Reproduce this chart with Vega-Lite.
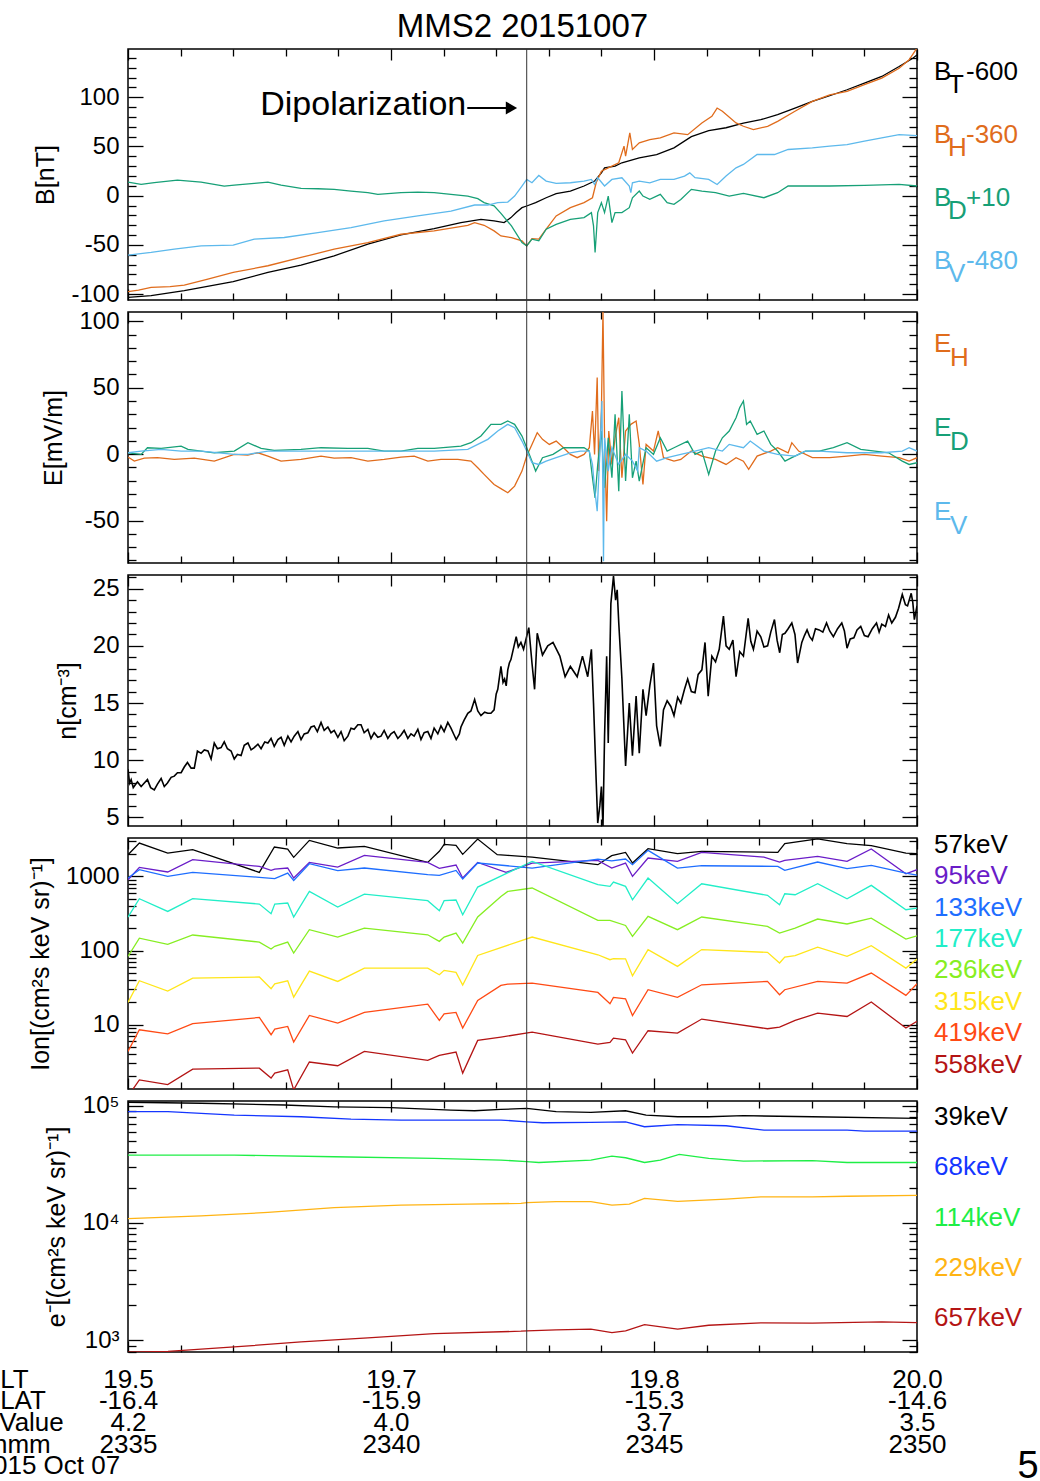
{
"$schema": "https://vega.github.io/schema/vega-lite/v6.json",
"padding": {"left": -23, "top": 10, "right": 0, "bottom": 0},
"config": {
 "font": "Liberation Sans",
 "view": {"stroke": "#000000", "strokeWidth": 1.5},
 "axis": {"domain": false, "grid": false, "labelFont": "Liberation Sans", "labelFontSize": 24, "labelColor": "#000000", "tickColor": "#000000", "tickWidth": 1.3, "titleFont": "Liberation Sans", "titleFontSize": 25, "titleFontWeight": "normal", "titleColor": "#000000", "titlePadding": 12, "labelFlush": false, "labelOverlap": false},
 "text": {"font": "Liberation Sans"},
 "title": {"font": "Liberation Sans", "fontWeight": "normal", "color": "#000000"}
},
"datasets": {
 "B": [
  {"t":35.0,"s":"BT","v":-103.3},{"t":35.44,"s":"BT","v":-101.6},{"t":36.07,"s":"BT","v":-96.5},{"t":37.0,"s":"BT","v":-87.4},{"t":37.66,"s":"BT","v":-78.0},{"t":38.29,"s":"BT","v":-70.5},{"t":38.92,"s":"BT","v":-61.1},{"t":39.56,"s":"BT","v":-49.3},{"t":40.19,"s":"BT","v":-39.9},{"t":40.82,"s":"BT","v":-33.4},{"t":41.33,"s":"BT","v":-27.4},{"t":41.71,"s":"BT","v":-24.0},{"t":41.96,"s":"BT","v":-25.7},{"t":42.15,"s":"BT","v":-27.4},{"t":42.28,"s":"BT","v":-22.3},{"t":42.38,"s":"BT","v":-17.2},{"t":42.49,"s":"BT","v":-12.2},{"t":42.58,"s":"BT","v":-10.5},{"t":42.75,"s":"BT","v":-7.1},{"t":42.95,"s":"BT","v":-2.1},{"t":43.14,"s":"BT","v":2.0},{"t":43.41,"s":"BT","v":4.7},{"t":43.67,"s":"BT","v":9.8},{"t":43.87,"s":"BT","v":14.8},{"t":44.0,"s":"BT","v":23.2},{"t":44.06,"s":"BT","v":28.3},{"t":44.26,"s":"BT","v":30.0},{"t":44.39,"s":"BT","v":33.4},{"t":44.72,"s":"BT","v":38.4},{"t":45.05,"s":"BT","v":41.8},{"t":45.38,"s":"BT","v":48.6},{"t":45.71,"s":"BT","v":60.0},{"t":46.04,"s":"BT","v":66.0},{"t":46.37,"s":"BT","v":69.0},{"t":46.7,"s":"BT","v":73.8},{"t":47.03,"s":"BT","v":77.2},{"t":47.35,"s":"BT","v":82.3},{"t":47.68,"s":"BT","v":89.0},{"t":48.01,"s":"BT","v":95.8},{"t":48.34,"s":"BT","v":101.5},{"t":48.67,"s":"BT","v":107.6},{"t":49.0,"s":"BT","v":114.3},{"t":49.33,"s":"BT","v":121.1},{"t":49.66,"s":"BT","v":131.2},{"t":49.92,"s":"BT","v":139.6},{"t":50.0,"s":"BT","v":143.0},
  {"t":35.0,"s":"BH","v":-97.6},{"t":35.2,"s":"BH","v":-96.0},{"t":35.44,"s":"BH","v":-93.2},{"t":35.8,"s":"BH","v":-92.5},{"t":36.07,"s":"BH","v":-90.8},{"t":36.5,"s":"BH","v":-85.0},{"t":37.0,"s":"BH","v":-78.0},{"t":37.66,"s":"BH","v":-71.2},{"t":38.29,"s":"BH","v":-62.8},{"t":38.92,"s":"BH","v":-54.4},{"t":39.56,"s":"BH","v":-47.6},{"t":40.19,"s":"BH","v":-39.2},{"t":40.82,"s":"BH","v":-35.8},{"t":41.46,"s":"BH","v":-30.1},{"t":41.59,"s":"BH","v":-27.4},{"t":41.77,"s":"BH","v":-30.1},{"t":41.96,"s":"BH","v":-35.8},{"t":42.09,"s":"BH","v":-40.9},{"t":42.29,"s":"BH","v":-42.6},{"t":42.49,"s":"BH","v":-45.9},{"t":42.58,"s":"BH","v":-51.0},{"t":42.68,"s":"BH","v":-43.6},{"t":42.81,"s":"BH","v":-44.2},{"t":42.95,"s":"BH","v":-34.1},{"t":43.14,"s":"BH","v":-20.6},{"t":43.41,"s":"BH","v":-12.2},{"t":43.67,"s":"BH","v":-7.1},{"t":43.83,"s":"BH","v":-2.1},{"t":43.9,"s":"BH","v":13.1},{"t":44.0,"s":"BH","v":24.9},{"t":44.13,"s":"BH","v":28.3},{"t":44.33,"s":"BH","v":33.4},{"t":44.43,"s":"BH","v":50.3},{"t":44.46,"s":"BH","v":40.1},{"t":44.54,"s":"BH","v":63.7},{"t":44.59,"s":"BH","v":46.9},{"t":44.72,"s":"BH","v":53.6},{"t":44.92,"s":"BH","v":57.0},{"t":45.12,"s":"BH","v":58.7},{"t":45.38,"s":"BH","v":63.7},{"t":45.64,"s":"BH","v":62.0},{"t":45.91,"s":"BH","v":73.9},{"t":46.1,"s":"BH","v":80.6},{"t":46.2,"s":"BH","v":89.0},{"t":46.3,"s":"BH","v":85.7},{"t":46.56,"s":"BH","v":73.9},{"t":46.7,"s":"BH","v":70.5},{"t":46.89,"s":"BH","v":67.1},{"t":47.16,"s":"BH","v":70.5},{"t":47.35,"s":"BH","v":75.5},{"t":47.68,"s":"BH","v":85.7},{"t":48.01,"s":"BH","v":95.8},{"t":48.34,"s":"BH","v":102.5},{"t":48.67,"s":"BH","v":105.9},{"t":49.0,"s":"BH","v":112.7},{"t":49.33,"s":"BH","v":119.4},{"t":49.66,"s":"BH","v":129.5},{"t":49.85,"s":"BH","v":138.0},{"t":50.0,"s":"BH","v":150.0},
  {"t":35.0,"s":"BD","v":13.8},{"t":35.25,"s":"BD","v":11.4},{"t":35.5,"s":"BD","v":13.2},{"t":35.94,"s":"BD","v":15.8},{"t":36.39,"s":"BD","v":13.8},{"t":36.83,"s":"BD","v":9.7},{"t":37.02,"s":"BD","v":10.7},{"t":37.4,"s":"BD","v":12.4},{"t":37.66,"s":"BD","v":13.8},{"t":37.91,"s":"BD","v":10.7},{"t":38.29,"s":"BD","v":7.4},{"t":38.61,"s":"BD","v":7.0},{"t":38.92,"s":"BD","v":6.4},{"t":39.24,"s":"BD","v":4.6},{"t":39.56,"s":"BD","v":3.0},{"t":39.75,"s":"BD","v":1.3},{"t":40.19,"s":"BD","v":3.0},{"t":40.51,"s":"BD","v":3.6},{"t":40.82,"s":"BD","v":3.0},{"t":41.14,"s":"BD","v":1.3},{"t":41.46,"s":"BD","v":-0.4},{"t":41.65,"s":"BD","v":-3.0},{"t":41.77,"s":"BD","v":-7.0},{"t":41.96,"s":"BD","v":-10.4},{"t":42.09,"s":"BD","v":-18.0},{"t":42.29,"s":"BD","v":-30.7},{"t":42.49,"s":"BD","v":-47.6},{"t":42.58,"s":"BD","v":-51.0},{"t":42.68,"s":"BD","v":-44.2},{"t":42.81,"s":"BD","v":-45.9},{"t":42.95,"s":"BD","v":-34.1},{"t":43.14,"s":"BD","v":-29.1},{"t":43.41,"s":"BD","v":-24.0},{"t":43.67,"s":"BD","v":-22.3},{"t":43.81,"s":"BD","v":-17.2},{"t":43.85,"s":"BD","v":-30.7},{"t":43.88,"s":"BD","v":-57.7},{"t":43.93,"s":"BD","v":-17.2},{"t":44.0,"s":"BD","v":-7.1},{"t":44.06,"s":"BD","v":-17.2},{"t":44.13,"s":"BD","v":-0.4},{"t":44.2,"s":"BD","v":-27.4},{"t":44.26,"s":"BD","v":-17.2},{"t":44.39,"s":"BD","v":-17.2},{"t":44.53,"s":"BD","v":-12.2},{"t":44.59,"s":"BD","v":-2.1},{"t":44.72,"s":"BD","v":4.7},{"t":44.79,"s":"BD","v":-0.4},{"t":44.92,"s":"BD","v":-3.8},{"t":45.12,"s":"BD","v":1.3},{"t":45.25,"s":"BD","v":-7.1},{"t":45.38,"s":"BD","v":-8.8},{"t":45.51,"s":"BD","v":-3.8},{"t":45.71,"s":"BD","v":6.4},{"t":45.91,"s":"BD","v":4.7},{"t":46.17,"s":"BD","v":3.0},{"t":46.43,"s":"BD","v":-0.4},{"t":46.7,"s":"BD","v":2.3},{"t":47.09,"s":"BD","v":-2.1},{"t":47.35,"s":"BD","v":3.0},{"t":47.55,"s":"BD","v":9.8},{"t":47.88,"s":"BD","v":9.8},{"t":48.34,"s":"BD","v":9.8},{"t":49.0,"s":"BD","v":10.4},{"t":49.66,"s":"BD","v":11.4},{"t":50.0,"s":"BD","v":9.8},
  {"t":35.0,"s":"BV","v":-60.4},{"t":35.44,"s":"BV","v":-57.7},{"t":35.88,"s":"BV","v":-54.4},{"t":36.39,"s":"BV","v":-51.0},{"t":37.0,"s":"BV","v":-50.3},{"t":37.4,"s":"BV","v":-44.2},{"t":37.97,"s":"BV","v":-42.5},{"t":38.61,"s":"BV","v":-37.5},{"t":39.24,"s":"BV","v":-32.4},{"t":39.87,"s":"BV","v":-25.7},{"t":40.51,"s":"BV","v":-20.6},{"t":41.14,"s":"BV","v":-15.6},{"t":41.59,"s":"BV","v":-9.5},{"t":41.84,"s":"BV","v":-9.5},{"t":42.03,"s":"BV","v":-7.1},{"t":42.22,"s":"BV","v":-6.5},{"t":42.35,"s":"BV","v":-0.4},{"t":42.49,"s":"BV","v":9.8},{"t":42.58,"s":"BV","v":16.5},{"t":42.68,"s":"BV","v":13.1},{"t":42.81,"s":"BV","v":20.5},{"t":42.95,"s":"BV","v":14.8},{"t":43.14,"s":"BV","v":12.4},{"t":43.41,"s":"BV","v":13.1},{"t":43.67,"s":"BV","v":14.8},{"t":43.81,"s":"BV","v":16.5},{"t":43.87,"s":"BV","v":11.4},{"t":43.93,"s":"BV","v":18.2},{"t":44.06,"s":"BV","v":9.8},{"t":44.2,"s":"BV","v":16.5},{"t":44.39,"s":"BV","v":18.2},{"t":44.53,"s":"BV","v":9.8},{"t":44.56,"s":"BV","v":3.0},{"t":44.59,"s":"BV","v":13.1},{"t":44.72,"s":"BV","v":14.8},{"t":44.92,"s":"BV","v":13.1},{"t":45.12,"s":"BV","v":16.5},{"t":45.38,"s":"BV","v":16.5},{"t":45.58,"s":"BV","v":19.9},{"t":45.68,"s":"BV","v":23.2},{"t":45.78,"s":"BV","v":18.2},{"t":46.04,"s":"BV","v":16.5},{"t":46.2,"s":"BV","v":11.4},{"t":46.37,"s":"BV","v":19.9},{"t":46.56,"s":"BV","v":28.3},{"t":46.7,"s":"BV","v":31.7},{"t":46.96,"s":"BV","v":41.8},{"t":47.29,"s":"BV","v":41.8},{"t":47.55,"s":"BV","v":46.9},{"t":48.01,"s":"BV","v":48.6},{"t":48.34,"s":"BV","v":50.3},{"t":48.67,"s":"BV","v":51.9},{"t":49.0,"s":"BV","v":55.3},{"t":49.33,"s":"BV","v":58.7},{"t":49.66,"s":"BV","v":62.0},{"t":50.0,"s":"BV","v":61.0}
 ],
 "E": [
  {"t":35.0,"s":"EH","v":-2.2},{"t":35.12,"s":"EH","v":-5.3},{"t":35.31,"s":"EH","v":-3.0},{"t":35.56,"s":"EH","v":-2.7},{"t":35.88,"s":"EH","v":-4.0},{"t":36.26,"s":"EH","v":-3.0},{"t":36.64,"s":"EH","v":-5.3},{"t":37.02,"s":"EH","v":-0.2},{"t":37.28,"s":"EH","v":-0.7},{"t":37.47,"s":"EH","v":1.0},{"t":37.66,"s":"EH","v":-1.5},{"t":37.91,"s":"EH","v":-5.3},{"t":38.29,"s":"EH","v":-4.0},{"t":38.67,"s":"EH","v":-1.5},{"t":38.92,"s":"EH","v":-3.0},{"t":39.24,"s":"EH","v":-2.7},{"t":39.56,"s":"EH","v":-5.3},{"t":39.87,"s":"EH","v":-4.0},{"t":40.19,"s":"EH","v":-2.2},{"t":40.44,"s":"EH","v":-1.5},{"t":40.7,"s":"EH","v":-5.3},{"t":40.95,"s":"EH","v":-4.0},{"t":41.27,"s":"EH","v":-4.0},{"t":41.52,"s":"EH","v":-5.3},{"t":41.65,"s":"EH","v":-10.3},{"t":41.77,"s":"EH","v":-15.3},{"t":41.96,"s":"EH","v":-22.9},{"t":42.09,"s":"EH","v":-26.0},{"t":42.22,"s":"EH","v":-29.1},{"t":42.35,"s":"EH","v":-24.1},{"t":42.49,"s":"EH","v":-12.8},{"t":42.58,"s":"EH","v":-1.5},{"t":42.68,"s":"EH","v":7.3},{"t":42.78,"s":"EH","v":16.1},{"t":42.88,"s":"EH","v":11.1},{"t":43.01,"s":"EH","v":7.3},{"t":43.14,"s":"EH","v":9.8},{"t":43.28,"s":"EH","v":4.8},{"t":43.41,"s":"EH","v":-0.2},{"t":43.54,"s":"EH","v":-2.7},{"t":43.67,"s":"EH","v":-0.2},{"t":43.77,"s":"EH","v":4.8},{"t":43.83,"s":"EH","v":32.4},{"t":43.87,"s":"EH","v":-0.2},{"t":43.92,"s":"EH","v":57.6},{"t":43.95,"s":"EH","v":-12.8},{"t":44.0,"s":"EH","v":32.4},{"t":44.03,"s":"EH","v":107.9},{"t":44.06,"s":"EH","v":12.3},{"t":44.1,"s":"EH","v":-50.5},{"t":44.14,"s":"EH","v":17.4},{"t":44.2,"s":"EH","v":-7.8},{"t":44.26,"s":"EH","v":12.3},{"t":44.33,"s":"EH","v":27.4},{"t":44.39,"s":"EH","v":-17.8},{"t":44.46,"s":"EH","v":17.4},{"t":44.56,"s":"EH","v":22.4},{"t":44.66,"s":"EH","v":24.9},{"t":44.72,"s":"EH","v":7.3},{"t":44.79,"s":"EH","v":-22.9},{"t":44.85,"s":"EH","v":7.3},{"t":44.99,"s":"EH","v":2.3},{"t":45.08,"s":"EH","v":17.4},{"t":45.18,"s":"EH","v":-2.7},{"t":45.38,"s":"EH","v":-5.3},{"t":45.51,"s":"EH","v":-4.0},{"t":45.71,"s":"EH","v":2.3},{"t":45.91,"s":"EH","v":-1.5},{"t":46.17,"s":"EH","v":-4.0},{"t":46.37,"s":"EH","v":-7.8},{"t":46.56,"s":"EH","v":-2.7},{"t":46.7,"s":"EH","v":-5.3},{"t":46.8,"s":"EH","v":-11.5},{"t":46.96,"s":"EH","v":-1.5},{"t":47.22,"s":"EH","v":2.3},{"t":47.35,"s":"EH","v":4.8},{"t":47.55,"s":"EH","v":0.9},{"t":47.62,"s":"EH","v":8.6},{"t":47.75,"s":"EH","v":2.3},{"t":48.01,"s":"EH","v":-2.7},{"t":48.34,"s":"EH","v":-2.7},{"t":48.67,"s":"EH","v":-1.5},{"t":49.0,"s":"EH","v":-0.2},{"t":49.33,"s":"EH","v":-1.5},{"t":49.66,"s":"EH","v":-2.7},{"t":49.85,"s":"EH","v":-5.3},{"t":50.0,"s":"EH","v":-2.7},
  {"t":35.0,"s":"ED","v":1.0},{"t":35.25,"s":"ED","v":-0.2},{"t":35.37,"s":"ED","v":4.8},{"t":35.63,"s":"ED","v":4.3},{"t":36.01,"s":"ED","v":6.0},{"t":36.14,"s":"ED","v":3.5},{"t":36.39,"s":"ED","v":2.3},{"t":36.64,"s":"ED","v":1.0},{"t":37.02,"s":"ED","v":2.3},{"t":37.28,"s":"ED","v":8.6},{"t":37.53,"s":"ED","v":4.3},{"t":37.78,"s":"ED","v":2.8},{"t":38.29,"s":"ED","v":3.5},{"t":38.67,"s":"ED","v":4.8},{"t":39.18,"s":"ED","v":4.3},{"t":39.56,"s":"ED","v":4.3},{"t":39.87,"s":"ED","v":2.3},{"t":40.19,"s":"ED","v":2.3},{"t":40.51,"s":"ED","v":4.3},{"t":40.82,"s":"ED","v":4.3},{"t":41.33,"s":"ED","v":6.0},{"t":41.52,"s":"ED","v":8.6},{"t":41.71,"s":"ED","v":13.6},{"t":41.9,"s":"ED","v":22.4},{"t":42.09,"s":"ED","v":22.4},{"t":42.22,"s":"ED","v":24.9},{"t":42.35,"s":"ED","v":22.4},{"t":42.49,"s":"ED","v":13.6},{"t":42.58,"s":"ED","v":4.8},{"t":42.68,"s":"ED","v":-5.3},{"t":42.75,"s":"ED","v":-12.8},{"t":42.88,"s":"ED","v":-2.7},{"t":43.08,"s":"ED","v":-0.2},{"t":43.28,"s":"ED","v":4.8},{"t":43.47,"s":"ED","v":4.8},{"t":43.67,"s":"ED","v":4.8},{"t":43.77,"s":"ED","v":2.3},{"t":43.83,"s":"ED","v":-17.8},{"t":43.88,"s":"ED","v":-32.9},{"t":43.93,"s":"ED","v":-7.8},{"t":44.0,"s":"ED","v":17.4},{"t":44.06,"s":"ED","v":-25.4},{"t":44.13,"s":"ED","v":12.3},{"t":44.2,"s":"ED","v":-17.8},{"t":44.26,"s":"ED","v":29.9},{"t":44.33,"s":"ED","v":-27.9},{"t":44.39,"s":"ED","v":47.5},{"t":44.46,"s":"ED","v":-20.3},{"t":44.53,"s":"ED","v":29.9},{"t":44.59,"s":"ED","v":-17.8},{"t":44.66,"s":"ED","v":-5.3},{"t":44.72,"s":"ED","v":-20.3},{"t":44.85,"s":"ED","v":4.8},{"t":44.99,"s":"ED","v":-0.2},{"t":45.12,"s":"ED","v":12.3},{"t":45.25,"s":"ED","v":2.3},{"t":45.38,"s":"ED","v":4.8},{"t":45.64,"s":"ED","v":9.8},{"t":45.78,"s":"ED","v":-0.2},{"t":45.91,"s":"ED","v":2.3},{"t":46.04,"s":"ED","v":-15.3},{"t":46.17,"s":"ED","v":2.3},{"t":46.3,"s":"ED","v":12.3},{"t":46.43,"s":"ED","v":17.4},{"t":46.56,"s":"ED","v":27.4},{"t":46.63,"s":"ED","v":35.0},{"t":46.7,"s":"ED","v":40.0},{"t":46.76,"s":"ED","v":22.4},{"t":46.83,"s":"ED","v":24.9},{"t":46.96,"s":"ED","v":14.9},{"t":47.09,"s":"ED","v":17.4},{"t":47.22,"s":"ED","v":7.3},{"t":47.35,"s":"ED","v":2.3},{"t":47.49,"s":"ED","v":-5.3},{"t":47.62,"s":"ED","v":-2.7},{"t":47.75,"s":"ED","v":-0.2},{"t":47.88,"s":"ED","v":2.3},{"t":48.14,"s":"ED","v":2.3},{"t":48.41,"s":"ED","v":4.8},{"t":48.67,"s":"ED","v":8.6},{"t":48.93,"s":"ED","v":3.5},{"t":49.2,"s":"ED","v":2.3},{"t":49.46,"s":"ED","v":1.0},{"t":49.72,"s":"ED","v":-5.3},{"t":49.85,"s":"ED","v":-7.8},{"t":50.0,"s":"ED","v":-6.5},
  {"t":35.0,"s":"EV","v":1.0},{"t":35.25,"s":"EV","v":2.3},{"t":35.63,"s":"EV","v":3.5},{"t":36.01,"s":"EV","v":2.3},{"t":36.39,"s":"EV","v":2.3},{"t":37.02,"s":"EV","v":-0.2},{"t":37.28,"s":"EV","v":-0.2},{"t":37.66,"s":"EV","v":2.3},{"t":38.29,"s":"EV","v":2.3},{"t":38.92,"s":"EV","v":2.3},{"t":39.56,"s":"EV","v":2.3},{"t":40.19,"s":"EV","v":2.3},{"t":40.82,"s":"EV","v":2.3},{"t":41.46,"s":"EV","v":3.5},{"t":41.65,"s":"EV","v":7.3},{"t":41.84,"s":"EV","v":11.1},{"t":42.03,"s":"EV","v":17.4},{"t":42.22,"s":"EV","v":22.4},{"t":42.35,"s":"EV","v":19.9},{"t":42.49,"s":"EV","v":9.8},{"t":42.58,"s":"EV","v":2.3},{"t":42.68,"s":"EV","v":-6.5},{"t":42.81,"s":"EV","v":-7.8},{"t":42.95,"s":"EV","v":-5.3},{"t":43.14,"s":"EV","v":-2.7},{"t":43.41,"s":"EV","v":1.0},{"t":43.6,"s":"EV","v":2.3},{"t":43.77,"s":"EV","v":2.3},{"t":43.83,"s":"EV","v":-7.8},{"t":43.87,"s":"EV","v":-25.4},{"t":43.92,"s":"EV","v":-43.0},{"t":43.97,"s":"EV","v":0.2},{"t":44.01,"s":"EV","v":40.0},{"t":44.04,"s":"EV","v":-80.7},{"t":44.06,"s":"EV","v":12.3},{"t":44.13,"s":"EV","v":-12.8},{"t":44.2,"s":"EV","v":4.8},{"t":44.33,"s":"EV","v":-7.8},{"t":44.46,"s":"EV","v":-0.2},{"t":44.59,"s":"EV","v":-5.3},{"t":44.69,"s":"EV","v":-12.8},{"t":44.72,"s":"EV","v":4.8},{"t":44.85,"s":"EV","v":2.3},{"t":45.05,"s":"EV","v":-5.3},{"t":45.25,"s":"EV","v":-2.7},{"t":45.51,"s":"EV","v":-0.2},{"t":45.78,"s":"EV","v":2.3},{"t":46.04,"s":"EV","v":4.8},{"t":46.3,"s":"EV","v":2.3},{"t":46.43,"s":"EV","v":7.3},{"t":46.7,"s":"EV","v":4.8},{"t":46.83,"s":"EV","v":9.8},{"t":47.09,"s":"EV","v":2.3},{"t":47.35,"s":"EV","v":-0.2},{"t":47.68,"s":"EV","v":-1.5},{"t":47.88,"s":"EV","v":2.3},{"t":48.14,"s":"EV","v":2.3},{"t":48.67,"s":"EV","v":1.0},{"t":49.33,"s":"EV","v":1.0},{"t":49.72,"s":"EV","v":2.3},{"t":49.85,"s":"EV","v":4.8},{"t":50.0,"s":"EV","v":2.3}
 ],
 "N": [
  {"t":35.0,"v":9.2},{"t":35.03,"v":8.0},{"t":35.06,"v":8.3},{"t":35.1,"v":7.6},{"t":35.18,"v":8.1},{"t":35.25,"v":7.7},{"t":35.31,"v":8.0},{"t":35.37,"v":8.3},{"t":35.43,"v":7.6},{"t":35.5,"v":7.4},{"t":35.56,"v":7.9},{"t":35.63,"v":8.4},{"t":35.69,"v":7.7},{"t":35.75,"v":8.0},{"t":35.82,"v":8.5},{"t":35.88,"v":8.6},{"t":35.94,"v":8.9},{"t":36.01,"v":8.9},{"t":36.07,"v":9.4},{"t":36.13,"v":9.8},{"t":36.2,"v":9.3},{"t":36.26,"v":9.3},{"t":36.32,"v":10.8},{"t":36.39,"v":10.6},{"t":36.45,"v":10.9},{"t":36.52,"v":10.8},{"t":36.58,"v":10.1},{"t":36.64,"v":11.5},{"t":36.7,"v":11.0},{"t":36.77,"v":11.1},{"t":36.83,"v":11.6},{"t":36.89,"v":11.0},{"t":36.96,"v":10.8},{"t":37.02,"v":10.1},{"t":37.08,"v":10.5},{"t":37.15,"v":10.4},{"t":37.21,"v":11.3},{"t":37.28,"v":11.5},{"t":37.34,"v":10.9},{"t":37.4,"v":11.1},{"t":37.47,"v":11.4},{"t":37.53,"v":11.0},{"t":37.6,"v":11.6},{"t":37.66,"v":11.5},{"t":37.72,"v":11.9},{"t":37.78,"v":11.2},{"t":37.85,"v":11.8},{"t":37.91,"v":12.0},{"t":37.97,"v":11.3},{"t":38.04,"v":12.1},{"t":38.1,"v":11.6},{"t":38.16,"v":12.1},{"t":38.23,"v":12.5},{"t":38.29,"v":11.8},{"t":38.35,"v":12.3},{"t":38.42,"v":12.4},{"t":38.48,"v":12.9},{"t":38.54,"v":13.0},{"t":38.6,"v":12.5},{"t":38.67,"v":13.3},{"t":38.73,"v":12.6},{"t":38.8,"v":12.9},{"t":38.86,"v":12.4},{"t":38.92,"v":12.6},{"t":38.99,"v":12.0},{"t":39.05,"v":12.5},{"t":39.11,"v":11.7},{"t":39.18,"v":12.1},{"t":39.24,"v":12.8},{"t":39.3,"v":12.7},{"t":39.37,"v":13.1},{"t":39.43,"v":13.1},{"t":39.49,"v":12.4},{"t":39.56,"v":12.7},{"t":39.62,"v":11.9},{"t":39.68,"v":12.4},{"t":39.75,"v":12.0},{"t":39.81,"v":12.1},{"t":39.87,"v":12.6},{"t":39.94,"v":11.9},{"t":40.0,"v":12.3},{"t":40.06,"v":12.5},{"t":40.13,"v":11.9},{"t":40.19,"v":12.2},{"t":40.25,"v":12.6},{"t":40.32,"v":11.9},{"t":40.38,"v":12.3},{"t":40.44,"v":12.1},{"t":40.51,"v":12.7},{"t":40.57,"v":11.8},{"t":40.63,"v":12.4},{"t":40.7,"v":12.5},{"t":40.76,"v":11.9},{"t":40.82,"v":12.8},{"t":40.89,"v":12.3},{"t":40.95,"v":13.0},{"t":41.01,"v":12.5},{"t":41.08,"v":13.3},{"t":41.14,"v":12.8},{"t":41.2,"v":12.2},{"t":41.24,"v":11.8},{"t":41.3,"v":12.3},{"t":41.33,"v":12.9},{"t":41.39,"v":13.5},{"t":41.46,"v":14.1},{"t":41.52,"v":14.3},{"t":41.59,"v":15.3},{"t":41.65,"v":14.3},{"t":41.71,"v":13.9},{"t":41.78,"v":14.2},{"t":41.84,"v":14.1},{"t":41.9,"v":14.1},{"t":41.96,"v":14.4},{"t":42.0,"v":15.8},{"t":42.03,"v":16.2},{"t":42.06,"v":17.2},{"t":42.09,"v":18.2},{"t":42.13,"v":16.8},{"t":42.16,"v":17.1},{"t":42.19,"v":16.5},{"t":42.22,"v":17.9},{"t":42.25,"v":18.5},{"t":42.28,"v":18.8},{"t":42.32,"v":19.6},{"t":42.38,"v":20.8},{"t":42.42,"v":19.9},{"t":42.47,"v":20.3},{"t":42.52,"v":19.7},{"t":42.62,"v":21.6},{"t":42.68,"v":18.5},{"t":42.73,"v":16.2},{"t":42.78,"v":21.1},{"t":42.88,"v":19.2},{"t":42.98,"v":20.0},{"t":43.08,"v":20.3},{"t":43.21,"v":19.1},{"t":43.31,"v":17.3},{"t":43.41,"v":18.2},{"t":43.54,"v":17.3},{"t":43.64,"v":19.1},{"t":43.74,"v":17.3},{"t":43.81,"v":19.7},{"t":43.85,"v":15.0},{"t":43.9,"v":8.3},{"t":43.93,"v":4.5},{"t":43.97,"v":6.0},{"t":44.0,"v":7.7},{"t":44.03,"v":4.2},{"t":44.06,"v":12.1},{"t":44.1,"v":19.1},{"t":44.13,"v":11.5},{"t":44.18,"v":23.7},{"t":44.23,"v":26.1},{"t":44.27,"v":24.0},{"t":44.3,"v":24.9},{"t":44.33,"v":22.0},{"t":44.39,"v":17.1},{"t":44.46,"v":9.5},{"t":44.53,"v":15.0},{"t":44.59,"v":10.4},{"t":44.66,"v":15.6},{"t":44.72,"v":10.6},{"t":44.79,"v":16.2},{"t":44.85,"v":13.9},{"t":44.92,"v":16.5},{"t":44.99,"v":18.5},{"t":45.05,"v":13.0},{"t":45.12,"v":11.2},{"t":45.18,"v":14.4},{"t":45.25,"v":15.2},{"t":45.32,"v":14.7},{"t":45.38,"v":13.9},{"t":45.45,"v":15.5},{"t":45.51,"v":15.0},{"t":45.58,"v":16.2},{"t":45.64,"v":17.1},{"t":45.71,"v":16.0},{"t":45.78,"v":15.9},{"t":45.84,"v":17.5},{"t":45.91,"v":17.9},{"t":45.97,"v":20.3},{"t":46.03,"v":15.6},{"t":46.1,"v":19.1},{"t":46.17,"v":18.6},{"t":46.24,"v":19.7},{"t":46.32,"v":22.6},{"t":46.37,"v":20.0},{"t":46.43,"v":19.7},{"t":46.5,"v":20.5},{"t":46.56,"v":17.3},{"t":46.63,"v":19.5},{"t":46.7,"v":19.1},{"t":46.79,"v":22.4},{"t":46.84,"v":20.4},{"t":46.89,"v":19.7},{"t":46.96,"v":21.3},{"t":47.03,"v":20.8},{"t":47.09,"v":19.9},{"t":47.16,"v":20.0},{"t":47.22,"v":21.2},{"t":47.29,"v":22.3},{"t":47.34,"v":20.5},{"t":47.39,"v":19.4},{"t":47.44,"v":21.0},{"t":47.49,"v":21.1},{"t":47.55,"v":21.5},{"t":47.62,"v":22.0},{"t":47.68,"v":21.0},{"t":47.73,"v":18.5},{"t":47.81,"v":20.3},{"t":47.86,"v":20.9},{"t":47.91,"v":21.4},{"t":47.96,"v":20.8},{"t":48.01,"v":20.5},{"t":48.07,"v":21.5},{"t":48.14,"v":21.4},{"t":48.21,"v":21.2},{"t":48.28,"v":22.0},{"t":48.34,"v":21.3},{"t":48.41,"v":20.8},{"t":48.49,"v":21.5},{"t":48.57,"v":22.0},{"t":48.62,"v":21.3},{"t":48.67,"v":19.8},{"t":48.73,"v":20.6},{"t":48.8,"v":20.7},{"t":48.86,"v":21.4},{"t":48.93,"v":21.7},{"t":49.0,"v":20.9},{"t":49.07,"v":20.8},{"t":49.15,"v":21.5},{"t":49.23,"v":22.0},{"t":49.28,"v":21.2},{"t":49.33,"v":21.9},{"t":49.4,"v":21.7},{"t":49.46,"v":22.7},{"t":49.52,"v":22.0},{"t":49.59,"v":22.5},{"t":49.65,"v":23.3},{"t":49.72,"v":24.5},{"t":49.78,"v":23.6},{"t":49.82,"v":23.5},{"t":49.89,"v":24.6},{"t":49.92,"v":23.8},{"t":49.95,"v":22.3},{"t":50.0,"v":23.5}
 ],
 "ION": [
  {"t":35.0,"s":"57keV","v":1963},{"t":35.216,"s":"57keV","v":2818},{"t":35.755,"s":"57keV","v":2065},{"t":36.23,"s":"57keV","v":2291},{"t":37.497,"s":"57keV","v":1132},{"t":37.783,"s":"57keV","v":2489},{"t":38.036,"s":"57keV","v":2339},{"t":38.15,"s":"57keV","v":1807},{"t":38.448,"s":"57keV","v":3062},{"t":38.987,"s":"57keV","v":2415},{"t":39.494,"s":"57keV","v":2541},{"t":40.698,"s":"57keV","v":1545},{"t":40.919,"s":"57keV","v":2178},{"t":41.01,"s":"57keV","v":2704},{"t":41.236,"s":"57keV","v":2624},{"t":41.363,"s":"57keV","v":1982},{"t":41.648,"s":"57keV","v":3192},{"t":42.02,"s":"57keV","v":1963},{"t":42.22,"s":"57keV","v":1923},{"t":42.683,"s":"57keV","v":1824},{"t":43.933,"s":"57keV","v":1439},{"t":44.196,"s":"57keV","v":1901},{"t":44.459,"s":"57keV","v":2109},{"t":44.591,"s":"57keV","v":1514},{"t":44.887,"s":"57keV","v":2366},{"t":45.446,"s":"57keV","v":2023},{"t":45.907,"s":"57keV","v":2178},{"t":47.354,"s":"57keV","v":2109},{"t":47.486,"s":"57keV","v":2761},{"t":48.111,"s":"57keV","v":3200},{"t":48.67,"s":"57keV","v":2761},{"t":49.131,"s":"57keV","v":2594},{"t":49.789,"s":"57keV","v":2065},{"t":50.0,"s":"57keV","v":2023},
  {"t":35.0,"s":"95keV","v":902},{"t":35.216,"s":"95keV","v":1324},{"t":35.755,"s":"95keV","v":1146},{"t":36.23,"s":"95keV","v":1679},{"t":37.497,"s":"95keV","v":1365},{"t":37.72,"s":"95keV","v":1205},{"t":37.79,"s":"95keV","v":1256},{"t":38.036,"s":"95keV","v":1297},{"t":38.15,"s":"95keV","v":951},{"t":38.448,"s":"95keV","v":1545},{"t":38.987,"s":"95keV","v":1337},{"t":39.494,"s":"95keV","v":1923},{"t":40.698,"s":"95keV","v":1545},{"t":40.919,"s":"95keV","v":1282},{"t":41.236,"s":"95keV","v":1422},{"t":41.363,"s":"95keV","v":951},{"t":41.648,"s":"95keV","v":1545},{"t":42.187,"s":"95keV","v":1132},{"t":42.683,"s":"95keV","v":1514},{"t":43.933,"s":"95keV","v":1644},{"t":44.196,"s":"95keV","v":1297},{"t":44.459,"s":"95keV","v":1514},{"t":44.591,"s":"95keV","v":1000},{"t":44.887,"s":"95keV","v":1770},{"t":45.446,"s":"95keV","v":1596},{"t":45.907,"s":"95keV","v":2109},{"t":47.09,"s":"95keV","v":1824},{"t":47.387,"s":"95keV","v":1563},{"t":47.486,"s":"95keV","v":1644},{"t":48.111,"s":"95keV","v":1862},{"t":48.67,"s":"95keV","v":1596},{"t":49.131,"s":"95keV","v":2339},{"t":49.789,"s":"95keV","v":1086},{"t":50.0,"s":"95keV","v":1230},
  {"t":35.0,"s":"133keV","v":951},{"t":35.216,"s":"133keV","v":1230},{"t":35.755,"s":"133keV","v":1000},{"t":36.23,"s":"133keV","v":1132},{"t":37.497,"s":"133keV","v":971},{"t":37.79,"s":"133keV","v":931},{"t":38.036,"s":"133keV","v":1109},{"t":38.15,"s":"133keV","v":883},{"t":38.448,"s":"133keV","v":1483},{"t":38.987,"s":"133keV","v":1194},{"t":39.494,"s":"133keV","v":1297},{"t":40.698,"s":"133keV","v":1054},{"t":40.919,"s":"133keV","v":1033},{"t":41.236,"s":"133keV","v":1205},{"t":41.363,"s":"133keV","v":920},{"t":41.648,"s":"133keV","v":1514},{"t":42.683,"s":"133keV","v":1297},{"t":43.933,"s":"133keV","v":1714},{"t":44.196,"s":"133keV","v":1622},{"t":44.459,"s":"133keV","v":1714},{"t":44.591,"s":"133keV","v":1439},{"t":44.887,"s":"133keV","v":2244},{"t":45.446,"s":"133keV","v":1297},{"t":45.907,"s":"133keV","v":1393},{"t":47.354,"s":"133keV","v":1365},{"t":47.486,"s":"133keV","v":1205},{"t":48.111,"s":"133keV","v":1563},{"t":48.67,"s":"133keV","v":1271},{"t":49.131,"s":"133keV","v":1409},{"t":49.789,"s":"133keV","v":1109},{"t":50.0,"s":"133keV","v":1042},
  {"t":35.0,"s":"177keV","v":283},{"t":35.216,"s":"177keV","v":500},{"t":35.755,"s":"177keV","v":337},{"t":36.23,"s":"177keV","v":500},{"t":37.497,"s":"177keV","v":424},{"t":37.72,"s":"177keV","v":314},{"t":37.79,"s":"177keV","v":424},{"t":38.036,"s":"177keV","v":437},{"t":38.15,"s":"177keV","v":283},{"t":38.448,"s":"177keV","v":628},{"t":38.987,"s":"177keV","v":386},{"t":39.494,"s":"177keV","v":578},{"t":40.698,"s":"177keV","v":470},{"t":40.919,"s":"177keV","v":344},{"t":41.01,"s":"177keV","v":470},{"t":41.236,"s":"177keV","v":480},{"t":41.363,"s":"177keV","v":304},{"t":41.648,"s":"177keV","v":718},{"t":42.683,"s":"177keV","v":1596},{"t":43.933,"s":"177keV","v":773},{"t":44.163,"s":"177keV","v":733},{"t":44.229,"s":"177keV","v":839},{"t":44.459,"s":"177keV","v":733},{"t":44.591,"s":"177keV","v":484},{"t":44.887,"s":"177keV","v":951},{"t":45.446,"s":"177keV","v":428},{"t":45.907,"s":"177keV","v":796},{"t":47.157,"s":"177keV","v":555},{"t":47.387,"s":"177keV","v":415},{"t":47.486,"s":"177keV","v":583},{"t":47.683,"s":"177keV","v":566},{"t":48.111,"s":"177keV","v":796},{"t":48.67,"s":"177keV","v":500},{"t":49.131,"s":"177keV","v":757},{"t":49.789,"s":"177keV","v":355},{"t":50.0,"s":"177keV","v":374},
  {"t":35.0,"s":"236keV","v":83.4},{"t":35.216,"s":"236keV","v":147},{"t":35.755,"s":"236keV","v":121},{"t":36.23,"s":"236keV","v":162},{"t":37.497,"s":"236keV","v":130},{"t":37.72,"s":"236keV","v":105},{"t":37.79,"s":"236keV","v":114},{"t":38.036,"s":"236keV","v":130},{"t":38.15,"s":"236keV","v":92.5},{"t":38.448,"s":"236keV","v":191},{"t":38.987,"s":"236keV","v":152},{"t":39.494,"s":"236keV","v":201},{"t":40.698,"s":"236keV","v":163},{"t":40.919,"s":"236keV","v":133},{"t":41.01,"s":"236keV","v":152},{"t":41.236,"s":"236keV","v":172},{"t":41.363,"s":"236keV","v":126},{"t":41.648,"s":"236keV","v":283},{"t":42.09,"s":"236keV","v":537},{"t":42.22,"s":"236keV","v":628},{"t":42.683,"s":"236keV","v":697},{"t":43.933,"s":"236keV","v":255},{"t":44.163,"s":"236keV","v":255},{"t":44.459,"s":"236keV","v":218},{"t":44.591,"s":"236keV","v":155},{"t":44.887,"s":"236keV","v":289},{"t":45.446,"s":"236keV","v":191},{"t":45.907,"s":"236keV","v":283},{"t":47.157,"s":"236keV","v":212},{"t":47.387,"s":"236keV","v":172},{"t":47.683,"s":"236keV","v":201},{"t":48.111,"s":"236keV","v":266},{"t":48.67,"s":"236keV","v":228},{"t":49.131,"s":"236keV","v":274},{"t":49.789,"s":"236keV","v":143},{"t":50.0,"s":"236keV","v":158},
  {"t":35.0,"s":"315keV","v":20},{"t":35.216,"s":"315keV","v":39.1},{"t":35.755,"s":"315keV","v":28.4},{"t":36.23,"s":"315keV","v":42.5},{"t":37.497,"s":"315keV","v":43.9},{"t":37.72,"s":"315keV","v":30.5},{"t":37.79,"s":"315keV","v":35.6},{"t":38.036,"s":"315keV","v":39.1},{"t":38.15,"s":"315keV","v":23.5},{"t":38.448,"s":"315keV","v":52.8},{"t":38.987,"s":"315keV","v":38.3},{"t":39.494,"s":"315keV","v":57.9},{"t":40.698,"s":"315keV","v":57.9},{"t":40.919,"s":"315keV","v":47.1},{"t":41.01,"s":"315keV","v":54},{"t":41.236,"s":"315keV","v":50.7},{"t":41.363,"s":"315keV","v":34.2},{"t":41.648,"s":"315keV","v":85.9},{"t":42.683,"s":"315keV","v":152},{"t":43.933,"s":"315keV","v":87.7},{"t":44.163,"s":"315keV","v":75.2},{"t":44.229,"s":"315keV","v":77.6},{"t":44.459,"s":"315keV","v":77.4},{"t":44.591,"s":"315keV","v":45.7},{"t":44.887,"s":"315keV","v":103},{"t":45.446,"s":"315keV","v":61.1},{"t":45.907,"s":"315keV","v":103},{"t":47.157,"s":"315keV","v":94.4},{"t":47.387,"s":"315keV","v":67.8},{"t":47.486,"s":"315keV","v":81.7},{"t":47.683,"s":"315keV","v":85.1},{"t":48.111,"s":"315keV","v":111},{"t":48.67,"s":"315keV","v":83.4},{"t":49.131,"s":"315keV","v":116},{"t":49.789,"s":"315keV","v":57.9},{"t":50.0,"s":"315keV","v":76.7},
  {"t":35.0,"s":"419keV","v":4.36},{"t":35.216,"s":"419keV","v":8.53},{"t":35.755,"s":"419keV","v":7.53},{"t":36.23,"s":"419keV","v":10.3},{"t":37.497,"s":"419keV","v":12.5},{"t":37.72,"s":"419keV","v":7.31},{"t":37.79,"s":"419keV","v":8.71},{"t":38.036,"s":"419keV","v":9.46},{"t":38.15,"s":"419keV","v":5.82},{"t":38.448,"s":"419keV","v":13.3},{"t":38.987,"s":"419keV","v":10.5},{"t":39.494,"s":"419keV","v":14.6},{"t":40.698,"s":"419keV","v":18.9},{"t":40.919,"s":"419keV","v":11.4},{"t":41.01,"s":"419keV","v":14.0},{"t":41.236,"s":"419keV","v":14.6},{"t":41.363,"s":"419keV","v":8.99},{"t":41.648,"s":"419keV","v":21.2},{"t":42.09,"s":"419keV","v":33.8},{"t":42.22,"s":"419keV","v":35.2},{"t":42.683,"s":"419keV","v":36.4},{"t":43.933,"s":"419keV","v":27.2},{"t":44.163,"s":"419keV","v":19.1},{"t":44.229,"s":"419keV","v":23.3},{"t":44.459,"s":"419keV","v":22.3},{"t":44.591,"s":"419keV","v":13.3},{"t":44.887,"s":"419keV","v":29.6},{"t":45.446,"s":"419keV","v":23.3},{"t":45.907,"s":"419keV","v":34.5},{"t":47.157,"s":"419keV","v":38.3},{"t":47.387,"s":"419keV","v":25.3},{"t":47.486,"s":"419keV","v":29.6},{"t":48.111,"s":"419keV","v":38.3},{"t":48.67,"s":"419keV","v":36.4},{"t":49.131,"s":"419keV","v":49.7},{"t":49.789,"s":"419keV","v":24.8},{"t":50.0,"s":"419keV","v":35.6},
  {"t":35.0,"s":"558keV","v":1.08},{"t":35.216,"s":"558keV","v":1.80},{"t":35.755,"s":"558keV","v":1.55},{"t":36.23,"s":"558keV","v":2.51},{"t":37.497,"s":"558keV","v":2.59},{"t":37.72,"s":"558keV","v":1.90},{"t":37.79,"s":"558keV","v":2.22},{"t":38.036,"s":"558keV","v":2.46},{"t":38.15,"s":"558keV","v":1.32},{"t":38.448,"s":"558keV","v":3.13},{"t":38.987,"s":"558keV","v":2.79},{"t":39.494,"s":"558keV","v":4.36},{"t":40.698,"s":"558keV","v":3.29},{"t":40.919,"s":"558keV","v":3.85},{"t":41.236,"s":"558keV","v":4.27},{"t":41.363,"s":"558keV","v":2.22},{"t":41.648,"s":"558keV","v":6.12},{"t":42.09,"s":"558keV","v":6.79},{"t":42.683,"s":"558keV","v":7.94},{"t":43.933,"s":"558keV","v":5.47},{"t":44.163,"s":"558keV","v":5.75},{"t":44.229,"s":"558keV","v":6.59},{"t":44.459,"s":"558keV","v":6.25},{"t":44.591,"s":"558keV","v":4.13},{"t":44.887,"s":"558keV","v":8.28},{"t":45.446,"s":"558keV","v":7.69},{"t":45.907,"s":"558keV","v":11.9},{"t":47.157,"s":"558keV","v":8.81},{"t":47.387,"s":"558keV","v":9.27},{"t":47.683,"s":"558keV","v":11.4},{"t":48.111,"s":"558keV","v":14.3},{"t":48.67,"s":"558keV","v":12.9},{"t":49.131,"s":"558keV","v":20.2},{"t":49.789,"s":"558keV","v":8.99},{"t":50.0,"s":"558keV","v":11.1}
 ],
 "ELE": [
  {"t":35.0,"s":"39keV","v":107000},{"t":36.39,"s":"39keV","v":105000},{"t":37.97,"s":"39keV","v":101400},{"t":38.92,"s":"39keV","v":97900},{"t":40.0,"s":"39keV","v":96200},{"t":41.14,"s":"39keV","v":91800},{"t":41.59,"s":"39keV","v":90600},{"t":42.09,"s":"39keV","v":93000},{"t":42.58,"s":"39keV","v":94800},{"t":43.14,"s":"39keV","v":88900},{"t":43.8,"s":"39keV","v":87700},{"t":44.46,"s":"39keV","v":90600},{"t":44.85,"s":"39keV","v":83200},{"t":45.45,"s":"39keV","v":80500},{"t":46.04,"s":"39keV","v":80500},{"t":46.7,"s":"39keV","v":82200},{"t":48.01,"s":"39keV","v":80500},{"t":50.0,"s":"39keV","v":78000},
  {"t":35.0,"s":"68keV","v":88900},{"t":35.76,"s":"68keV","v":88900},{"t":37.02,"s":"68keV","v":83200},{"t":38.29,"s":"68keV","v":80500},{"t":39.24,"s":"68keV","v":76900},{"t":40.19,"s":"68keV","v":75500},{"t":41.14,"s":"68keV","v":75500},{"t":42.09,"s":"68keV","v":75500},{"t":42.58,"s":"68keV","v":72900},{"t":42.88,"s":"68keV","v":71600},{"t":43.8,"s":"68keV","v":72100},{"t":44.46,"s":"68keV","v":72900},{"t":44.82,"s":"68keV","v":66200},{"t":45.45,"s":"68keV","v":68900},{"t":46.37,"s":"68keV","v":67500},{"t":47.09,"s":"68keV","v":61900},{"t":48.67,"s":"68keV","v":61900},{"t":49.0,"s":"68keV","v":60800},{"t":50.0,"s":"68keV","v":60800},
  {"t":35.0,"s":"114keV","v":37900},{"t":37.02,"s":"114keV","v":37900},{"t":38.92,"s":"114keV","v":36700},{"t":40.82,"s":"114keV","v":35500},{"t":42.09,"s":"114keV","v":34400},{"t":42.58,"s":"114keV","v":33300},{"t":42.81,"s":"114keV","v":32800},{"t":43.8,"s":"114keV","v":34400},{"t":44.2,"s":"114keV","v":37200},{"t":44.46,"s":"114keV","v":36000},{"t":44.82,"s":"114keV","v":32800},{"t":45.12,"s":"114keV","v":34400},{"t":45.48,"s":"114keV","v":38500},{"t":46.04,"s":"114keV","v":35500},{"t":46.7,"s":"114keV","v":33700},{"t":48.01,"s":"114keV","v":34000},{"t":48.67,"s":"114keV","v":32800},{"t":50.0,"s":"114keV","v":32800},
  {"t":35.0,"s":"229keV","v":10900},{"t":36.39,"s":"229keV","v":11500},{"t":37.66,"s":"229keV","v":12300},{"t":38.92,"s":"229keV","v":13500},{"t":40.19,"s":"229keV","v":14200},{"t":41.46,"s":"229keV","v":14500},{"t":42.47,"s":"229keV","v":14700},{"t":42.58,"s":"229keV","v":14900},{"t":43.14,"s":"229keV","v":15200},{"t":43.8,"s":"229keV","v":15200},{"t":44.2,"s":"229keV","v":14200},{"t":44.53,"s":"229keV","v":14500},{"t":44.82,"s":"229keV","v":16200},{"t":45.45,"s":"229keV","v":15300},{"t":46.37,"s":"229keV","v":16000},{"t":47.03,"s":"229keV","v":16700},{"t":48.01,"s":"229keV","v":16700},{"t":48.67,"s":"229keV","v":16900},{"t":50.0,"s":"229keV","v":17200},
  {"t":35.0,"s":"657keV","v":790},{"t":35.76,"s":"657keV","v":805},{"t":37.02,"s":"657keV","v":877},{"t":38.29,"s":"657keV","v":968},{"t":39.56,"s":"657keV","v":1047},{"t":40.82,"s":"657keV","v":1140},{"t":42.47,"s":"657keV","v":1194},{"t":42.58,"s":"657keV","v":1202},{"t":43.14,"s":"657keV","v":1225},{"t":43.8,"s":"657keV","v":1242},{"t":44.2,"s":"657keV","v":1161},{"t":44.46,"s":"657keV","v":1202},{"t":44.82,"s":"657keV","v":1361},{"t":45.45,"s":"657keV","v":1242},{"t":46.04,"s":"657keV","v":1343},{"t":47.03,"s":"657keV","v":1406},{"t":48.01,"s":"657keV","v":1400},{"t":49.33,"s":"657keV","v":1432},{"t":50.0,"s":"657keV","v":1416}
 ],
 "labB": [{"s":"BT","m":"B","sub":"T","suf":"-600"},{"s":"BH","m":"B","sub":"H","suf":"-360"},{"s":"BD","m":"B","sub":"D","suf":"+10"},{"s":"BV","m":"B","sub":"V","suf":"-480"}],
 "labE": [{"s":"EH","m":"E","sub":"H"},{"s":"ED","m":"E","sub":"D"},{"s":"EV","m":"E","sub":"V"}],
 "labI": [{"s":"57keV"},{"s":"95keV"},{"s":"133keV"},{"s":"177keV"},{"s":"236keV"},{"s":"315keV"},{"s":"419keV"},{"s":"558keV"}],
 "labEl": [{"s":"39keV"},{"s":"68keV"},{"s":"114keV"},{"s":"229keV"},{"s":"657keV"}]
},
"vconcat": [
 {
  "width": 789, "height": 251,
  "title": {"text": "MMS2 20151007", "fontSize": 33, "offset": -22, "baseline": "alphabetic", "anchor": "middle", "frame": "group"},
  "resolve": {"scale": {"y": "independent"}, "axis": {"x": "independent", "y": "independent"}},
  "layer": [
   {"data": {"name": "B"}, "mark": {"type": "line", "clip": true, "strokeWidth": 1.3},
    "encoding": {
     "x": {"field": "t", "type": "quantitative", "scale": {"domain": [35, 50], "nice": false, "zero": false}, "axis": {"orient": "bottom", "values": [35, 40, 45, 50], "tickSize": -11, "labels": false, "title": null}},
     "y": {"field": "v", "type": "quantitative", "scale": {"domain": [-106, 149], "nice": false, "zero": false}, "axis": {"orient": "left", "values": [-100, -50, 0, 50, 100], "labelExpr": "datum.value < 0 ? '-' + abs(datum.value) : '' + datum.value", "tickSize": -15, "labelPadding": 24, "title": "B[nT]"}},
     "color": {"field": "s", "type": "nominal", "scale": {"domain": ["BT", "BH", "BD", "BV"], "range": ["#000000", "#E06C1C", "#17A077", "#5DB9EC"]}, "legend": null}}},
   {"data": {"values": [{}]}, "mark": {"type": "point", "opacity": 0},
    "encoding": {
     "x": {"datum": 40, "type": "quantitative", "scale": {"domain": [35, 50], "nice": false, "zero": false}, "axis": {"orient": "bottom", "values": [36, 37, 38, 39, 41, 42, 43, 44, 46, 47, 48, 49], "tickSize": -7, "labels": false, "title": null}},
     "y": {"datum": 0, "type": "quantitative", "scale": {"domain": [-106, 149], "nice": false, "zero": false}, "axis": {"orient": "left", "values": [-90, -80, -70, -60, -40, -30, -20, -10, 10, 20, 30, 40, 60, 70, 80, 90, 110, 120, 130, 140], "tickSize": -8, "labels": false, "title": null}}}},
   {"data": {"values": [{}]}, "mark": {"type": "point", "opacity": 0},
    "encoding": {
     "x": {"datum": 40, "type": "quantitative", "scale": {"domain": [35, 50], "nice": false, "zero": false}, "axis": {"orient": "top", "values": [35, 40, 45, 50], "tickSize": -11, "labels": false, "title": null}},
     "y": {"datum": 0, "type": "quantitative", "scale": {"domain": [-106, 149], "nice": false, "zero": false}, "axis": {"orient": "right", "values": [-100, -50, 0, 50, 100], "tickSize": -15, "labels": false, "title": null}}}},
   {"data": {"values": [{}]}, "mark": {"type": "point", "opacity": 0},
    "encoding": {
     "x": {"datum": 40, "type": "quantitative", "scale": {"domain": [35, 50], "nice": false, "zero": false}, "axis": {"orient": "top", "values": [36, 37, 38, 39, 41, 42, 43, 44, 46, 47, 48, 49], "tickSize": -7, "labels": false, "title": null}},
     "y": {"datum": 0, "type": "quantitative", "scale": {"domain": [-106, 149], "nice": false, "zero": false}, "axis": {"orient": "right", "values": [-90, -80, -70, -60, -40, -30, -20, -10, 10, 20, 30, 40, 60, 70, 80, 90, 110, 120, 130, 140], "tickSize": -8, "labels": false, "title": null}}}},
   {"data": {"values": [{}]}, "mark": {"type": "rule", "color": "#333333", "strokeWidth": 1},
    "encoding": {
     "x": {"datum": 42.58, "type": "quantitative", "scale": {"domain": [35, 50], "nice": false, "zero": false}, "axis": null},
     "y": {"datum": 149, "type": "quantitative", "scale": {"domain": [-106, 149], "nice": false, "zero": false}, "axis": null},
     "y2": {"datum": -118.2}}},
   {"data": {"values": [{}]}, "mark": {"type": "text", "text": "Dipolarization", "fontSize": 34, "align": "right", "baseline": "alphabetic", "color": "#000000"},
    "encoding": {
     "x": {"datum": 41.43, "type": "quantitative", "scale": {"domain": [35, 50], "nice": false, "zero": false}, "axis": null},
     "y": {"datum": 82.3, "type": "quantitative", "scale": {"domain": [-106, 149], "nice": false, "zero": false}, "axis": null}}},
   {"data": {"values": [{}]}, "mark": {"type": "rule", "color": "#000000", "strokeWidth": 2},
    "encoding": {
     "x": {"datum": 41.45, "type": "quantitative", "scale": {"domain": [35, 50], "nice": false, "zero": false}, "axis": null},
     "x2": {"datum": 42.2},
     "y": {"datum": 89.1, "type": "quantitative", "scale": {"domain": [-106, 149], "nice": false, "zero": false}, "axis": null}}},
   {"data": {"values": [{}]}, "mark": {"type": "point", "shape": "triangle-right", "filled": true, "color": "#000000", "opacity": 1, "size": 170},
    "encoding": {
     "x": {"datum": 42.29, "type": "quantitative", "scale": {"domain": [35, 50], "nice": false, "zero": false}, "axis": null},
     "y": {"datum": 89.1, "type": "quantitative", "scale": {"domain": [-106, 149], "nice": false, "zero": false}, "axis": null}}},
   {"data": {"name": "labB"}, "mark": {"type": "text", "align": "left", "baseline": "middle", "fontSize": 26, "dx": 17},
    "encoding": {
     "x": {"datum": 50, "type": "quantitative", "scale": {"domain": [35, 50], "nice": false, "zero": false}, "axis": null},
     "y": {"field": "s", "type": "nominal", "scale": {"type": "point", "domain": ["BT", "BH", "BD", "BV"], "padding": 0.492, "align": 0.366}, "axis": null},
     "text": {"field": "m"},
     "color": {"field": "s", "type": "nominal", "scale": {"domain": ["BT", "BH", "BD", "BV"], "range": ["#000000", "#E06C1C", "#17A077", "#5DB9EC"]}, "legend": null}}},
   {"data": {"name": "labB"}, "mark": {"type": "text", "align": "left", "baseline": "middle", "fontSize": 26, "dx": 31, "dy": 13},
    "encoding": {
     "x": {"datum": 50, "type": "quantitative", "scale": {"domain": [35, 50], "nice": false, "zero": false}, "axis": null},
     "y": {"field": "s", "type": "nominal", "scale": {"type": "point", "domain": ["BT", "BH", "BD", "BV"], "padding": 0.492, "align": 0.366}, "axis": null},
     "text": {"field": "sub"},
     "color": {"field": "s", "type": "nominal", "scale": {"domain": ["BT", "BH", "BD", "BV"], "range": ["#000000", "#E06C1C", "#17A077", "#5DB9EC"]}, "legend": null}}},
   {"data": {"name": "labB"}, "mark": {"type": "text", "align": "left", "baseline": "middle", "fontSize": 26, "dx": 49},
    "encoding": {
     "x": {"datum": 50, "type": "quantitative", "scale": {"domain": [35, 50], "nice": false, "zero": false}, "axis": null},
     "y": {"field": "s", "type": "nominal", "scale": {"type": "point", "domain": ["BT", "BH", "BD", "BV"], "padding": 0.492, "align": 0.366}, "axis": null},
     "text": {"field": "suf"},
     "color": {"field": "s", "type": "nominal", "scale": {"domain": ["BT", "BH", "BD", "BV"], "range": ["#000000", "#E06C1C", "#17A077", "#5DB9EC"]}, "legend": null}}}
  ]
 },
 {
  "width": 789, "height": 251,
  "resolve": {"scale": {"y": "independent"}, "axis": {"x": "independent", "y": "independent"}},
  "layer": [
   {"data": {"name": "E"}, "mark": {"type": "line", "clip": true, "strokeWidth": 1.3},
    "encoding": {
     "x": {"field": "t", "type": "quantitative", "scale": {"domain": [35, 50], "nice": false, "zero": false}, "axis": {"orient": "bottom", "values": [35, 40, 45, 50], "tickSize": -11, "labels": false, "title": null}},
     "y": {"field": "v", "type": "quantitative", "scale": {"domain": [-82, 107], "nice": false, "zero": false}, "axis": {"orient": "left", "values": [-50, 0, 50, 100], "labelExpr": "datum.value < 0 ? '-' + abs(datum.value) : '' + datum.value", "tickSize": -15, "labelPadding": 24, "title": "E[mV/m]"}},
     "color": {"field": "s", "type": "nominal", "scale": {"domain": ["EH", "ED", "EV"], "range": ["#E06C1C", "#17A077", "#5DB9EC"]}, "legend": null}}},
   {"data": {"values": [{}]}, "mark": {"type": "point", "opacity": 0},
    "encoding": {
     "x": {"datum": 40, "type": "quantitative", "scale": {"domain": [35, 50], "nice": false, "zero": false}, "axis": {"orient": "bottom", "values": [36, 37, 38, 39, 41, 42, 43, 44, 46, 47, 48, 49], "tickSize": -7, "labels": false, "title": null}},
     "y": {"datum": 0, "type": "quantitative", "scale": {"domain": [-82, 107], "nice": false, "zero": false}, "axis": {"orient": "left", "values": [-80, -70, -60, -40, -30, -20, -10, 10, 20, 30, 40, 60, 70, 80, 90], "tickSize": -8, "labels": false, "title": null}}}},
   {"data": {"values": [{}]}, "mark": {"type": "point", "opacity": 0},
    "encoding": {
     "x": {"datum": 40, "type": "quantitative", "scale": {"domain": [35, 50], "nice": false, "zero": false}, "axis": {"orient": "top", "values": [35, 40, 45, 50], "tickSize": -11, "labels": false, "title": null}},
     "y": {"datum": 0, "type": "quantitative", "scale": {"domain": [-82, 107], "nice": false, "zero": false}, "axis": {"orient": "right", "values": [-50, 0, 50, 100], "tickSize": -15, "labels": false, "title": null}}}},
   {"data": {"values": [{}]}, "mark": {"type": "point", "opacity": 0},
    "encoding": {
     "x": {"datum": 40, "type": "quantitative", "scale": {"domain": [35, 50], "nice": false, "zero": false}, "axis": {"orient": "top", "values": [36, 37, 38, 39, 41, 42, 43, 44, 46, 47, 48, 49], "tickSize": -7, "labels": false, "title": null}},
     "y": {"datum": 0, "type": "quantitative", "scale": {"domain": [-82, 107], "nice": false, "zero": false}, "axis": {"orient": "right", "values": [-80, -70, -60, -40, -30, -20, -10, 10, 20, 30, 40, 60, 70, 80, 90], "tickSize": -8, "labels": false, "title": null}}}},
   {"data": {"values": [{}]}, "mark": {"type": "rule", "color": "#333333", "strokeWidth": 1},
    "encoding": {
     "x": {"datum": 42.58, "type": "quantitative", "scale": {"domain": [35, 50], "nice": false, "zero": false}, "axis": null},
     "y": {"datum": 107, "type": "quantitative", "scale": {"domain": [-82, 107], "nice": false, "zero": false}, "axis": null},
     "y2": {"datum": -91.1}}},
   {"data": {"name": "labE"}, "mark": {"type": "text", "align": "left", "baseline": "middle", "fontSize": 26, "dx": 17},
    "encoding": {
     "x": {"datum": 50, "type": "quantitative", "scale": {"domain": [35, 50], "nice": false, "zero": false}, "axis": null},
     "y": {"field": "s", "type": "nominal", "scale": {"type": "point", "domain": ["EH", "ED", "EV"], "padding": 0.494, "align": 0.386}, "axis": null},
     "text": {"field": "m"},
     "color": {"field": "s", "type": "nominal", "scale": {"domain": ["EH", "ED", "EV"], "range": ["#E06C1C", "#17A077", "#5DB9EC"]}, "legend": null}}},
   {"data": {"name": "labE"}, "mark": {"type": "text", "align": "left", "baseline": "middle", "fontSize": 26, "dx": 33, "dy": 14},
    "encoding": {
     "x": {"datum": 50, "type": "quantitative", "scale": {"domain": [35, 50], "nice": false, "zero": false}, "axis": null},
     "y": {"field": "s", "type": "nominal", "scale": {"type": "point", "domain": ["EH", "ED", "EV"], "padding": 0.494, "align": 0.386}, "axis": null},
     "text": {"field": "sub"},
     "color": {"field": "s", "type": "nominal", "scale": {"domain": ["EH", "ED", "EV"], "range": ["#E06C1C", "#17A077", "#5DB9EC"]}, "legend": null}}}
  ]
 },
 {
  "width": 789, "height": 251,
  "resolve": {"scale": {"y": "independent"}, "axis": {"x": "independent", "y": "independent"}},
  "layer": [
   {"data": {"name": "N"}, "mark": {"type": "line", "clip": true, "strokeWidth": 1.6, "color": "#000000"},
    "encoding": {
     "x": {"field": "t", "type": "quantitative", "scale": {"domain": [35, 50], "nice": false, "zero": false}, "axis": {"orient": "bottom", "values": [35, 40, 45, 50], "tickSize": -11, "labels": false, "title": null}},
     "y": {"field": "v", "type": "quantitative", "scale": {"domain": [4.24, 26.2], "nice": false, "zero": false}, "axis": {"orient": "left", "values": [5, 10, 15, 20, 25], "tickSize": -15, "labelPadding": 24, "title": "n[cm⁻³]"}}}},
   {"data": {"values": [{}]}, "mark": {"type": "point", "opacity": 0},
    "encoding": {
     "x": {"datum": 40, "type": "quantitative", "scale": {"domain": [35, 50], "nice": false, "zero": false}, "axis": {"orient": "bottom", "values": [36, 37, 38, 39, 41, 42, 43, 44, 46, 47, 48, 49], "tickSize": -7, "labels": false, "title": null}},
     "y": {"datum": 10, "type": "quantitative", "scale": {"domain": [4.24, 26.2], "nice": false, "zero": false}, "axis": {"orient": "left", "values": [6, 7, 8, 9, 11, 12, 13, 14, 16, 17, 18, 19, 21, 22, 23, 24, 26], "tickSize": -8, "labels": false, "title": null}}}},
   {"data": {"values": [{}]}, "mark": {"type": "point", "opacity": 0},
    "encoding": {
     "x": {"datum": 40, "type": "quantitative", "scale": {"domain": [35, 50], "nice": false, "zero": false}, "axis": {"orient": "top", "values": [35, 40, 45, 50], "tickSize": -11, "labels": false, "title": null}},
     "y": {"datum": 10, "type": "quantitative", "scale": {"domain": [4.24, 26.2], "nice": false, "zero": false}, "axis": {"orient": "right", "values": [5, 10, 15, 20, 25], "tickSize": -15, "labels": false, "title": null}}}},
   {"data": {"values": [{}]}, "mark": {"type": "point", "opacity": 0},
    "encoding": {
     "x": {"datum": 40, "type": "quantitative", "scale": {"domain": [35, 50], "nice": false, "zero": false}, "axis": {"orient": "top", "values": [36, 37, 38, 39, 41, 42, 43, 44, 46, 47, 48, 49], "tickSize": -7, "labels": false, "title": null}},
     "y": {"datum": 10, "type": "quantitative", "scale": {"domain": [4.24, 26.2], "nice": false, "zero": false}, "axis": {"orient": "right", "values": [6, 7, 8, 9, 11, 12, 13, 14, 16, 17, 18, 19, 21, 22, 23, 24, 26], "tickSize": -8, "labels": false, "title": null}}}},
   {"data": {"values": [{}]}, "mark": {"type": "rule", "color": "#333333", "strokeWidth": 1},
    "encoding": {
     "x": {"datum": 42.58, "type": "quantitative", "scale": {"domain": [35, 50], "nice": false, "zero": false}, "axis": null},
     "y": {"datum": 26.2, "type": "quantitative", "scale": {"domain": [4.24, 26.2], "nice": false, "zero": false}, "axis": null},
     "y2": {"datum": 3.19}}}
  ]
 },
 {
  "width": 789, "height": 251,
  "resolve": {"scale": {"y": "independent"}, "axis": {"x": "independent", "y": "independent"}},
  "layer": [
   {"data": {"name": "ION"}, "mark": {"type": "line", "clip": true, "strokeWidth": 1.3},
    "encoding": {
     "x": {"field": "t", "type": "quantitative", "scale": {"domain": [35, 50], "nice": false, "zero": false}, "axis": {"orient": "bottom", "values": [35, 40, 45, 50], "tickSize": -11, "labels": false, "title": null}},
     "y": {"field": "v", "type": "quantitative", "scale": {"type": "log", "domain": [1.355, 3296], "nice": false}, "axis": {"orient": "left", "values": [10, 100, 1000], "format": "d", "tickSize": -15, "labelPadding": 24, "title": "Ion[(cm²s keV sr)⁻¹]"}},
     "color": {"field": "s", "type": "nominal", "scale": {"domain": ["57keV", "95keV", "133keV", "177keV", "236keV", "315keV", "419keV", "558keV"], "range": ["#000000", "#6A1CC8", "#1E6EFF", "#22EEC8", "#86EE22", "#FFE61A", "#FF4A14", "#B41414"]}, "legend": null}}},
   {"data": {"values": [{}]}, "mark": {"type": "point", "opacity": 0},
    "encoding": {
     "x": {"datum": 40, "type": "quantitative", "scale": {"domain": [35, 50], "nice": false, "zero": false}, "axis": {"orient": "bottom", "values": [36, 37, 38, 39, 41, 42, 43, 44, 46, 47, 48, 49], "tickSize": -7, "labels": false, "title": null}},
     "y": {"datum": 100, "type": "quantitative", "scale": {"type": "log", "domain": [1.355, 3296], "nice": false}, "axis": {"orient": "left", "values": [2, 3, 4, 5, 6, 7, 8, 9, 20, 30, 40, 50, 60, 70, 80, 90, 200, 300, 400, 500, 600, 700, 800, 900, 2000, 3000], "tickSize": -8, "labels": false, "title": null}}}},
   {"data": {"values": [{}]}, "mark": {"type": "point", "opacity": 0},
    "encoding": {
     "x": {"datum": 40, "type": "quantitative", "scale": {"domain": [35, 50], "nice": false, "zero": false}, "axis": {"orient": "top", "values": [35, 40, 45, 50], "tickSize": -11, "labels": false, "title": null}},
     "y": {"datum": 100, "type": "quantitative", "scale": {"type": "log", "domain": [1.355, 3296], "nice": false}, "axis": {"orient": "right", "values": [10, 100, 1000], "tickSize": -15, "labels": false, "title": null}}}},
   {"data": {"values": [{}]}, "mark": {"type": "point", "opacity": 0},
    "encoding": {
     "x": {"datum": 40, "type": "quantitative", "scale": {"domain": [35, 50], "nice": false, "zero": false}, "axis": {"orient": "top", "values": [36, 37, 38, 39, 41, 42, 43, 44, 46, 47, 48, 49], "tickSize": -7, "labels": false, "title": null}},
     "y": {"datum": 100, "type": "quantitative", "scale": {"type": "log", "domain": [1.355, 3296], "nice": false}, "axis": {"orient": "right", "values": [2, 3, 4, 5, 6, 7, 8, 9, 20, 30, 40, 50, 60, 70, 80, 90, 200, 300, 400, 500, 600, 700, 800, 900, 2000, 3000], "tickSize": -8, "labels": false, "title": null}}}},
   {"data": {"values": [{}]}, "mark": {"type": "rule", "color": "#333333", "strokeWidth": 1},
    "encoding": {
     "x": {"datum": 42.58, "type": "quantitative", "scale": {"domain": [35, 50], "nice": false, "zero": false}, "axis": null},
     "y": {"datum": 3296, "type": "quantitative", "scale": {"type": "log", "domain": [1.355, 3296], "nice": false}, "axis": null},
     "y2": {"datum": 0.934}}},
   {"data": {"name": "labI"}, "mark": {"type": "text", "align": "left", "baseline": "middle", "fontSize": 26, "dx": 17},
    "encoding": {
     "x": {"datum": 50, "type": "quantitative", "scale": {"domain": [35, 50], "nice": false, "zero": false}, "axis": null},
     "y": {"field": "s", "type": "nominal", "scale": {"type": "point", "domain": ["57keV", "95keV", "133keV", "177keV", "236keV", "315keV", "419keV", "558keV"], "padding": 0.493, "align": 0.216}, "axis": null},
     "text": {"field": "s"},
     "color": {"field": "s", "type": "nominal", "scale": {"domain": ["57keV", "95keV", "133keV", "177keV", "236keV", "315keV", "419keV", "558keV"], "range": ["#000000", "#6A1CC8", "#1E6EFF", "#22EEC8", "#86EE22", "#FFE61A", "#FF4A14", "#B41414"]}, "legend": null}}}
  ]
 },
 {
  "width": 789, "height": 251,
  "resolve": {"scale": {"y": "independent"}, "axis": {"x": "independent", "y": "independent"}},
  "layer": [
   {"data": {"name": "ELE"}, "mark": {"type": "line", "clip": true, "strokeWidth": 1.3},
    "encoding": {
     "x": {"field": "t", "type": "quantitative", "scale": {"domain": [35, 50], "nice": false, "zero": false},
       "axis": {"orient": "bottom", "values": [35, 40, 45, 50], "tickSize": -11, "labelPadding": 25, "labelExpr": "datum.value == 35 ? ['19.5','-16.4','4.2','2335'] : datum.value == 40 ? ['19.7','-15.9','4.0','2340'] : datum.value == 45 ? ['19.8','-15.3','3.7','2345'] : ['20.0','-14.6','3.5','2350']", "labelFont": "Liberation Sans", "labelFontSize": 26, "labelLineHeight": 21.7, "labelBaseline": "top", "labelAlign": "center",
         "title": ["MLT", "MLAT", "L Value", "hhmm", "2015 Oct 07"], "titleFont": "Liberation Sans", "titleFontSize": 26, "titleLineHeight": 21.7, "titleX": -150, "titleY": 14, "titleAlign": "left", "titleBaseline": "top", "titleAngle": 0}},
     "y": {"field": "v", "type": "quantitative", "scale": {"type": "log", "domain": [794, 109700], "nice": false}, "axis": {"orient": "left", "values": [1000, 10000, 100000], "labelExpr": "datum.value == 100000 ? '10⁵' : datum.value == 10000 ? '10⁴' : '10³'", "tickSize": -15, "labelPadding": 24, "title": "e⁻[(cm²s keV sr)⁻¹]"}},
     "color": {"field": "s", "type": "nominal", "scale": {"domain": ["39keV", "68keV", "114keV", "229keV", "657keV"], "range": ["#000000", "#1436FF", "#1EEE46", "#FFB414", "#B41414"]}, "legend": null}}},
   {"data": {"values": [{}]}, "mark": {"type": "point", "opacity": 0},
    "encoding": {
     "x": {"datum": 40, "type": "quantitative", "scale": {"domain": [35, 50], "nice": false, "zero": false}, "axis": {"orient": "bottom", "values": [36, 37, 38, 39, 41, 42, 43, 44, 46, 47, 48, 49], "tickSize": -7, "labels": false, "title": null}},
     "y": {"datum": 10000, "type": "quantitative", "scale": {"type": "log", "domain": [794, 109700], "nice": false}, "axis": {"orient": "left", "values": [800, 900, 2000, 3000, 4000, 5000, 6000, 7000, 8000, 9000, 20000, 30000, 40000, 50000, 60000, 70000, 80000, 90000], "tickSize": -8, "labels": false, "title": null}}}},
   {"data": {"values": [{}]}, "mark": {"type": "point", "opacity": 0},
    "encoding": {
     "x": {"datum": 40, "type": "quantitative", "scale": {"domain": [35, 50], "nice": false, "zero": false}, "axis": {"orient": "top", "values": [35, 40, 45, 50], "tickSize": -11, "labels": false, "title": null}},
     "y": {"datum": 10000, "type": "quantitative", "scale": {"type": "log", "domain": [794, 109700], "nice": false}, "axis": {"orient": "right", "values": [1000, 10000, 100000], "tickSize": -15, "labels": false, "title": null}}}},
   {"data": {"values": [{}]}, "mark": {"type": "point", "opacity": 0},
    "encoding": {
     "x": {"datum": 40, "type": "quantitative", "scale": {"domain": [35, 50], "nice": false, "zero": false}, "axis": {"orient": "top", "values": [36, 37, 38, 39, 41, 42, 43, 44, 46, 47, 48, 49], "tickSize": -7, "labels": false, "title": null}},
     "y": {"datum": 10000, "type": "quantitative", "scale": {"type": "log", "domain": [794, 109700], "nice": false}, "axis": {"orient": "right", "values": [800, 900, 2000, 3000, 4000, 5000, 6000, 7000, 8000, 9000, 20000, 30000, 40000, 50000, 60000, 70000, 80000, 90000], "tickSize": -8, "labels": false, "title": null}}}},
   {"data": {"values": [{}]}, "mark": {"type": "rule", "color": "#333333", "strokeWidth": 1},
    "encoding": {"x": {"datum": 42.58, "type": "quantitative", "scale": {"domain": [35, 50], "nice": false, "zero": false}, "axis": null}}},
   {"data": {"name": "labEl"}, "mark": {"type": "text", "align": "left", "baseline": "middle", "fontSize": 26, "dx": 17},
    "encoding": {
     "x": {"datum": 50, "type": "quantitative", "scale": {"domain": [35, 50], "nice": false, "zero": false}, "axis": null},
     "y": {"field": "s", "type": "nominal", "scale": {"type": "point", "domain": ["39keV", "68keV", "114keV", "229keV", "657keV"], "padding": 0.49, "align": 0.318}, "axis": null},
     "text": {"field": "s"},
     "color": {"field": "s", "type": "nominal", "scale": {"domain": ["39keV", "68keV", "114keV", "229keV", "657keV"], "range": ["#000000", "#1436FF", "#1EEE46", "#FFB414", "#B41414"]}, "legend": null}}},
   {"data": {"values": [{}]}, "mark": {"type": "text", "text": "5", "fontSize": 38, "align": "center", "baseline": "alphabetic", "dx": 111, "dy": 126, "color": "#000000"},
    "encoding": {
     "x": {"datum": 50, "type": "quantitative", "scale": {"domain": [35, 50], "nice": false, "zero": false}, "axis": null},
     "y": {"datum": 794, "type": "quantitative", "scale": {"type": "log", "domain": [794, 109700], "nice": false}, "axis": null}}}
  ]
 }
],
"spacing": 12,
"bounds": "flush",
"resolve": {"scale": {"color": "independent"}}
}
